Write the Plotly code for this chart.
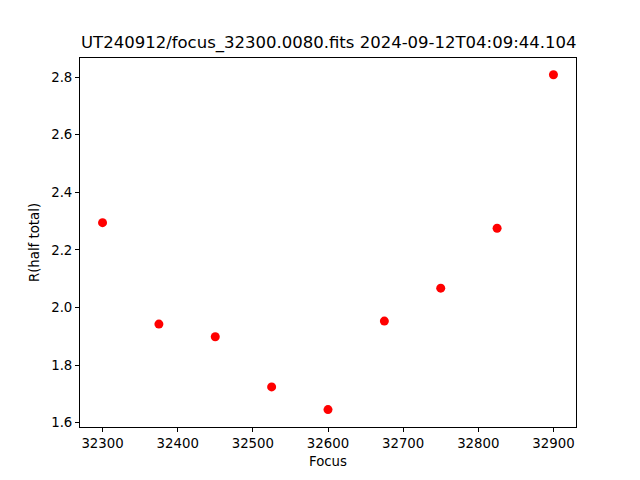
import plotly.graph_objects as go

focus = [32300, 32375, 32450, 32525, 32600, 32675, 32750, 32825, 32900]
r_half = [2.2945, 1.9427, 1.8987, 1.7245, 1.6459, 1.953, 2.0673, 2.2751, 2.808]
x_ticks = [32300, 32400, 32500, 32600, 32700, 32800, 32900]
y_ticks = [1.6, 1.8, 2.0, 2.2, 2.4, 2.6, 2.8]
title = "UT240912/focus_32300.0080.fits 2024-09-12T04:09:44.104"

font = "DejaVu Sans"
fig = go.Figure()
fig.add_trace(go.Scatter(x=focus, y=r_half, mode="markers",
                         marker=dict(color="#ff0000", size=9, line=dict(width=0))))

axis_common = dict(showline=True, linecolor="black", linewidth=1, mirror=True,
                   ticks="outside", ticklen=4, tickwidth=1, tickcolor="black",
                   showgrid=False, zeroline=False,
                   tickfont=dict(family=font, size=13.3, color="black"))

fig.update_layout(
    width=640, height=480,
    margin=dict(l=80, r=64, t=57.6, b=52.8),
    paper_bgcolor="white", plot_bgcolor="white",
    showlegend=False,
    xaxis=dict(range=[32270, 32930], tickvals=x_ticks,
               ticktext=[str(v) for v in x_ticks],
               title=dict(text="Focus", font=dict(family=font, size=13.3, color="black"), standoff=6),
               **axis_common),
    yaxis=dict(range=[1.5855, 2.866], tickvals=y_ticks,
               ticktext=[f"{v:.1f}" for v in y_ticks],
               title=dict(text="R(half total)", font=dict(family=font, size=13.3, color="black"), standoff=8),
               **axis_common),
    annotations=[dict(text=title, x=0.5, y=1, xref="paper", yref="paper",
                      xanchor="center", yanchor="bottom", yshift=3, showarrow=False,
                      font=dict(family=font, size=16.5, color="black"))],
)
fig.write_html("out.html", config={"displayModeBar": False},
               post_script="document.body.style.margin='0';")
